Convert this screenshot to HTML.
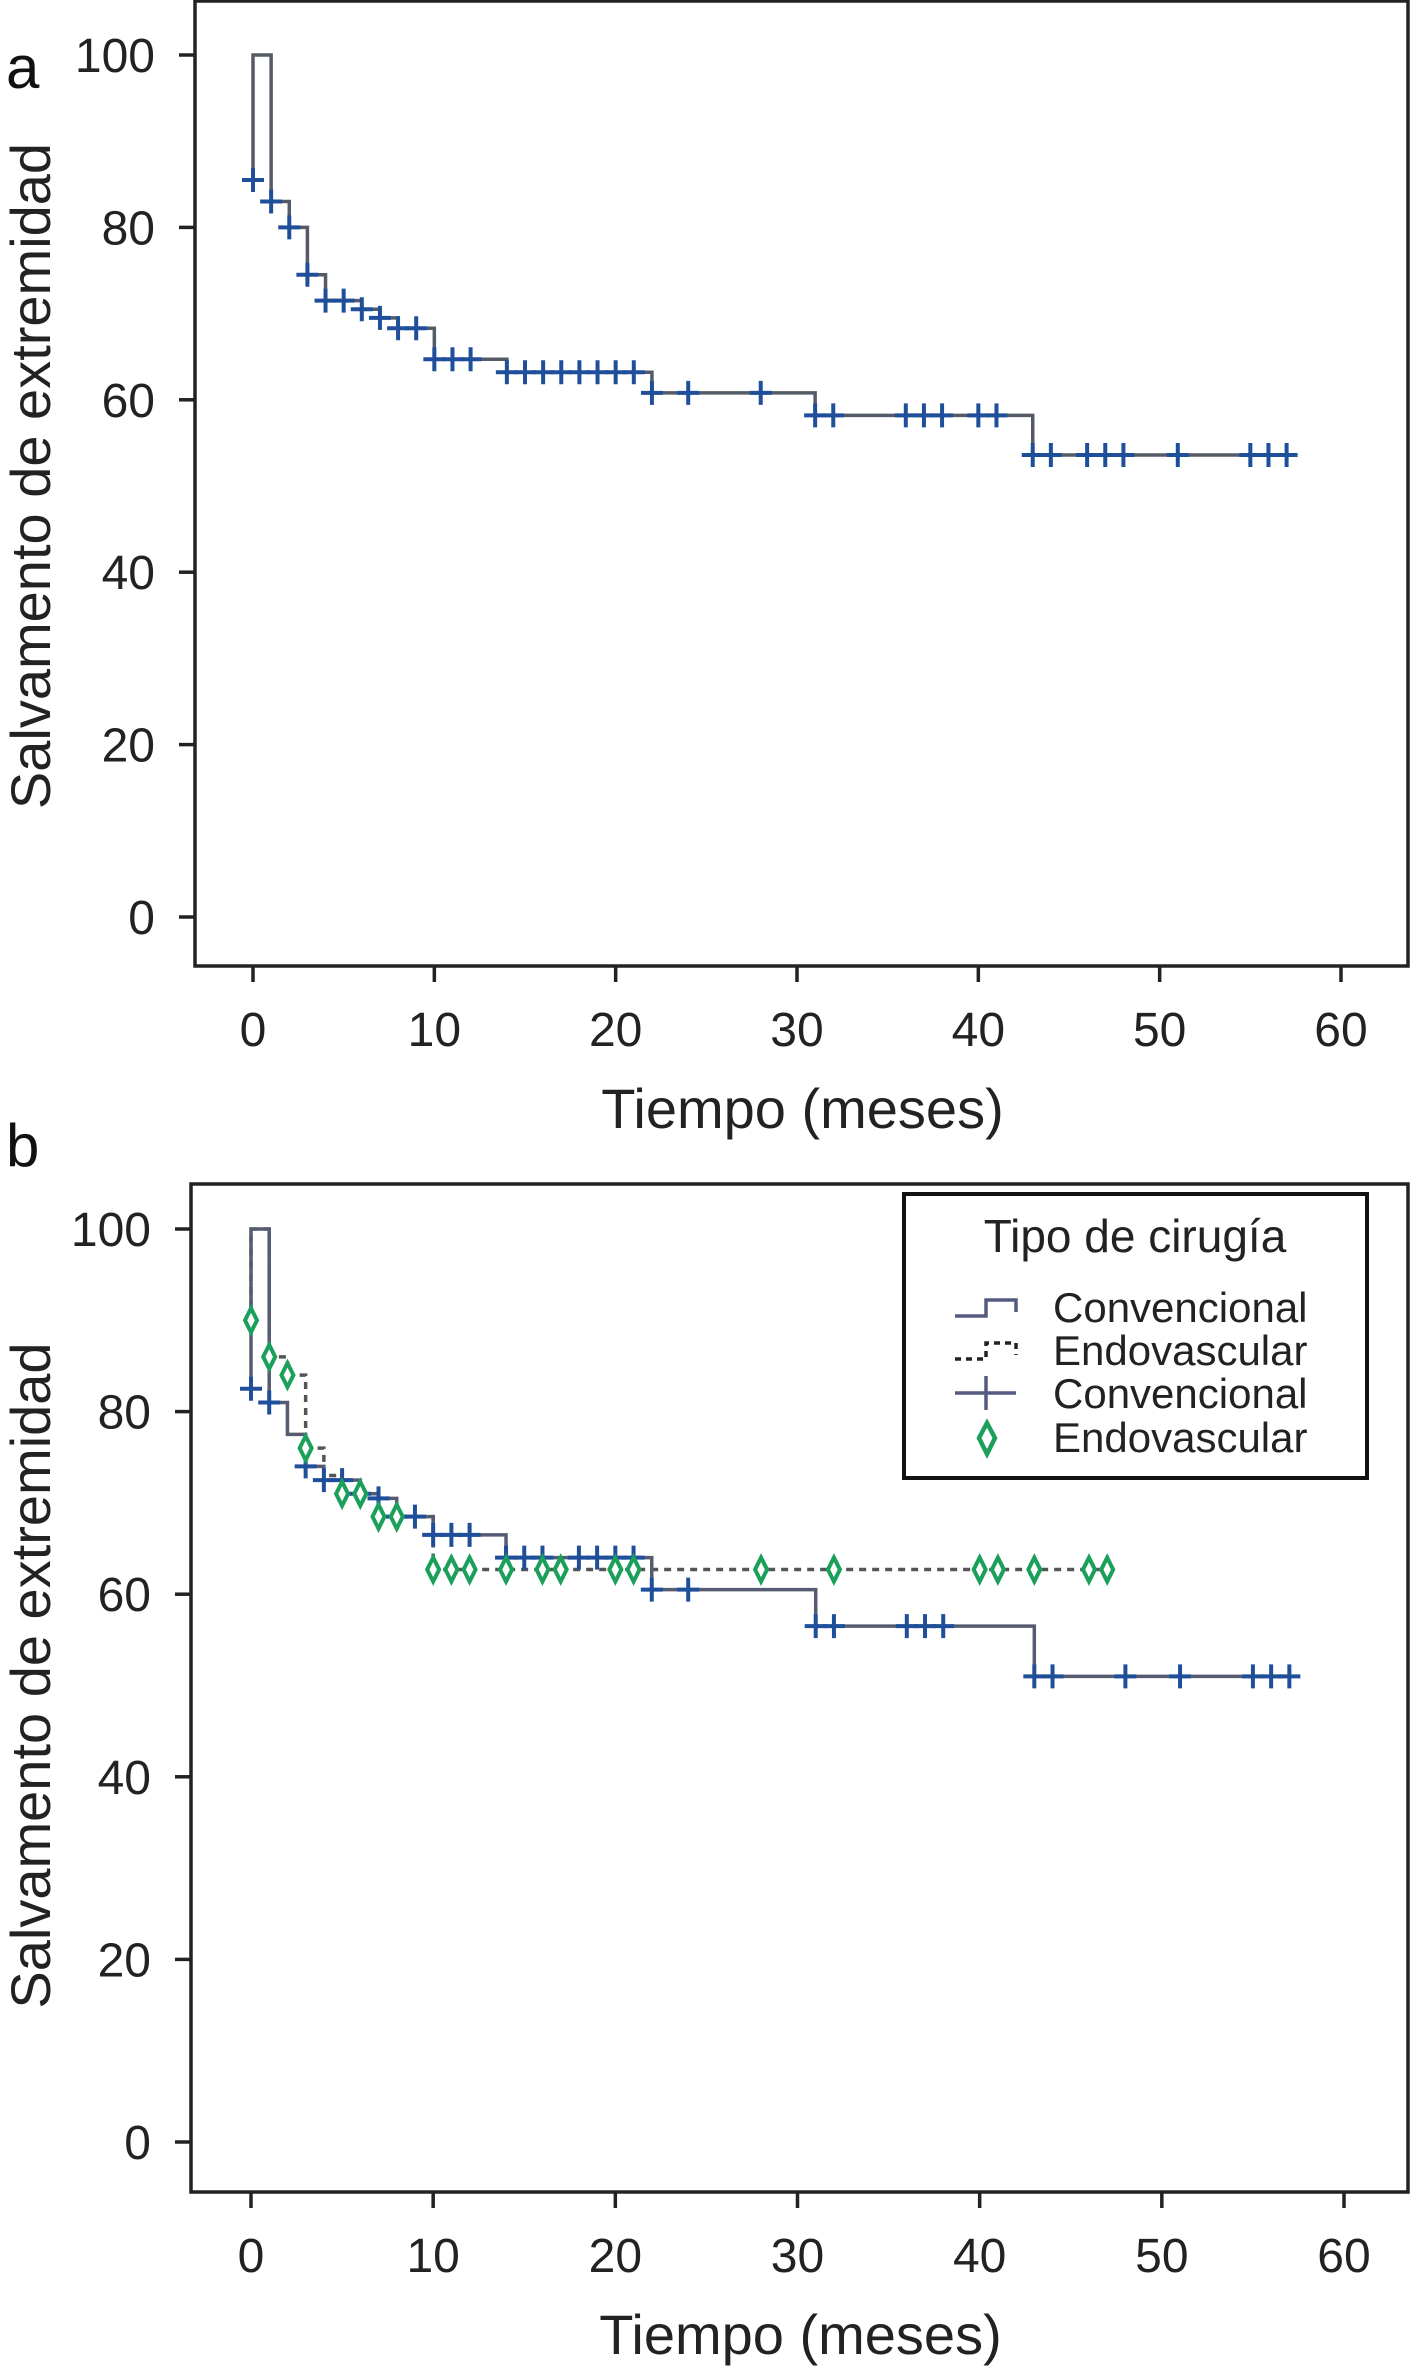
<!DOCTYPE html>
<html><head><meta charset="utf-8">
<style>
html,body{margin:0;padding:0;background:#fff;}
svg{display:block;font-family:"Liberation Sans",sans-serif;}
</style></head>
<body>
<svg id="fig" width="1411" height="2376" viewBox="0 0 1411 2376" xmlns="http://www.w3.org/2000/svg"></svg>
<script>
// ---- Panel a data ----
const aStepX = [0, 0, 1, 2, 3, 4, 6, 7, 8, 10, 14, 22, 31, 43, 57];
const aStepY = [85.5, 100, 83, 80, 74.5, 71.5, 70.5, 69.5, 68.3, 64.7, 63.2, 60.8, 58.2, 53.6, 53.6];
const aCensX = [0,1,2,3,4,5,6,7,8,9,10,11,12,14,15,16,17,18,19,20,21,22,24,28,31,32,36,37,38,40,41,43,44,46,47,48,51,55,56,57];
const aCensY = [85.5,83,80,74.5,71.5,71.5,70.5,69.5,68.3,68.3,64.7,64.7,64.7,63.2,63.2,63.2,63.2,63.2,63.2,63.2,63.2,60.8,60.8,60.8,58.2,58.2,58.2,58.2,58.2,58.2,58.2,53.6,53.6,53.6,53.6,53.6,53.6,53.6,53.6,53.6];
// ---- Panel b data ----
const bConvX = [0, 0, 1, 2, 3, 4, 6, 7, 8, 10, 14, 22, 31, 43, 57.3];
const bConvY = [82.5, 100, 81, 77.5, 74, 72.5, 71, 70.5, 68.5, 66.5, 64, 60.5, 56.5, 51, 51];
const bEndoX = [0, 0, 1, 2, 3, 4, 5, 7, 10, 47];
const bEndoY = [90, 100, 86, 84, 76, 73, 71, 68.5, 62.7, 62.7];
const bConvCensX = [0,1,3,4,5,6,7,8,9,10,11,12,14,15,16,18,19,20,21,22,24,31,32,36,37,38,43,44,48,51,55,56,57];
const bConvCensY = [82.5,81,74,72.5,72.5,71,70.5,68.5,68.5,66.5,66.5,66.5,64,64,64,64,64,64,64,60.5,60.5,56.5,56.5,56.5,56.5,56.5,51,51,51,51,51,51,51];
const bEndoCensX = [0,1,2,3,5,6,7,8,10,11,12,14,16,17,20,21,28,32,40,41,43,46,47];
const bEndoCensY = [90,86,84,76,71,71,68.5,68.5,62.7,62.7,62.7,62.7,62.7,62.7,62.7,62.7,62.7,62.7,62.7,62.7,62.7,62.7,62.7];
const xTicks = [0,10,20,30,40,50,60];
const yTicks = [0,20,40,60,80,100];
const legendLabels = ["Convencional","Endovascular","Convencional","Endovascular"];

const NS="http://www.w3.org/2000/svg";
const svg=document.getElementById('fig');
function mk(tag,attrs,parent,text){const e=document.createElementNS(NS,tag);for(const k in attrs)e.setAttribute(k,attrs[k]);if(text!==undefined)e.textContent=text;(parent||svg).appendChild(e);return e;}
function scales(p){return {x:v=>p.x0+(p.x60-p.x0)*v/60,y:v=>p.y0+(p.y100-p.y0)*v/100};}
function stepPath(xs,ys,S){let d='M'+S.x(xs[0])+','+S.y(ys[0]);for(let i=1;i<xs.length;i++){d+=' L'+S.x(xs[i])+','+S.y(ys[i-1])+' L'+S.x(xs[i])+','+S.y(ys[i]);}return d;}
function axes(p,g,label){
  const S=scales(p);
  const f=mk('rect',{x:p.L,y:p.T,width:p.R-p.L,height:p.B-p.T,fill:'none',stroke:'#222','stroke-width':3.5},g);
  
  xTicks.forEach(v=>{
    const t=mk('line',{x1:S.x(v),x2:S.x(v),y1:p.B,y2:p.B+16,stroke:'#222','stroke-width':3.5},g);
    
    const l=mk('text',{x:S.x(v),y:p.B+80,'text-anchor':'middle','font-size':48,fill:'#222'},g,String(v));
    
  });
  yTicks.forEach(v=>{
    const t=mk('line',{x1:p.L-16,x2:p.L,y1:S.y(v),y2:S.y(v),stroke:'#222','stroke-width':3.5},g);
    
    const l=mk('text',{x:p.L-40,y:S.y(v)+17,'text-anchor':'end','font-size':48,fill:'#222'},g,String(v));
    
  });
  const xt=mk('text',{x:(p.L+p.R)/2+1,y:p.B+162,'text-anchor':'middle','font-size':56,fill:'#222'},g,'Tiempo (meses)');
  
  const yc=(p.y0+p.y100)/2-10;
  const yt=mk('text',{x:0,y:0,'text-anchor':'middle','font-size':56,fill:'#222',transform:'translate(50,'+yc+') rotate(-90)'},g,'Salvamento de extremidad');
  
  const pl=mk('text',{x:6,y:p.labelY,'font-size':60,fill:'#111'},g,label);
  
  return S;
}
function cross(S,x,y,g,col){
  const X=S.x(x),Y=S.y(y);
  const c=mk('path',{d:'M'+(X-11)+','+Y+' H'+(X+11)+' M'+X+','+(Y-12)+' V'+(Y+12),stroke:col,'stroke-width':4,fill:'none'},g);
  
}
function diamond(S,x,y,g){
  const X=S.x(x),Y=S.y(y);
  const d=mk('path',{d:'M'+X+','+(Y-12)+' L'+(X+6)+','+Y+' L'+X+','+(Y+12)+' L'+(X-6)+','+Y+' Z',stroke:'#1aa05a','stroke-width':4,fill:'#fff'},g);
  
}
// Panel a
const pa={L:195,T:1,R:1408,B:966,x0:253,x60:1341,y0:917,y100:55,labelY:88};
const ga=mk('g',{});
const Sa=axes(pa,ga,'a');
const la=mk('path',{d:stepPath(aStepX,aStepY,Sa),stroke:'#555b66','stroke-width':3.5,fill:'none'},ga);

aCensX.forEach((x,i)=>cross(Sa,x,aCensY[i],ga,'#1f4f9a'));
// Panel b
const pb={L:191,T:1184,R:1408,B:2192,x0:251,x60:1344,y0:2142,y100:1229,labelY:1166};
const gb=mk('g',{});
const Sb=axes(pb,gb,'b');
const le=mk('path',{d:stepPath(bEndoX,bEndoY,Sb),stroke:'#555','stroke-width':3.5,'stroke-dasharray':'7,6',fill:'none'},gb);

const lc=mk('path',{d:stepPath(bConvX,bConvY,Sb),stroke:'#555b70','stroke-width':3.5,fill:'none'},gb);

bConvCensX.forEach((x,i)=>cross(Sb,x,bConvCensY[i],gb,'#1f4f9a'));
bEndoCensX.forEach((x,i)=>diamond(Sb,x,bEndoCensY[i],gb));
// Legend
const lg=mk('g',{});
const lb=mk('rect',{x:904,y:1194,width:463,height:284,fill:'#fff',stroke:'#111','stroke-width':4},lg);

const lt=mk('text',{x:1135,y:1252,'text-anchor':'middle','font-size':46,fill:'#222'},lg,'Tipo de cirugía');

const ly=[1307,1350,1393,1437];
legendLabels.forEach((t,i)=>{
  const e=mk('text',{x:1053,y:ly[i]+15,'font-size':42,fill:'#222'},lg,t);
  
});
const s1=mk('path',{d:'M955,1316 H986 V1300 H1016 V1312',stroke:'#555b80','stroke-width':3.5,fill:'none'},lg);

const s2=mk('path',{d:'M955,1359 H986 V1343 H1016 V1355',stroke:'#222','stroke-width':3.5,'stroke-dasharray':'6,5',fill:'none'},lg);

const s3=mk('path',{d:'M955,1393 H1016 M986,1376 V1410',stroke:'#555b80','stroke-width':3.5,fill:'none'},lg);

const s4=mk('path',{d:'M987,1423 L995,1438 L987,1454 L979,1438 Z',stroke:'#1aa05a','stroke-width':4.5,fill:'#fff'},lg);

</script>
</body></html>
